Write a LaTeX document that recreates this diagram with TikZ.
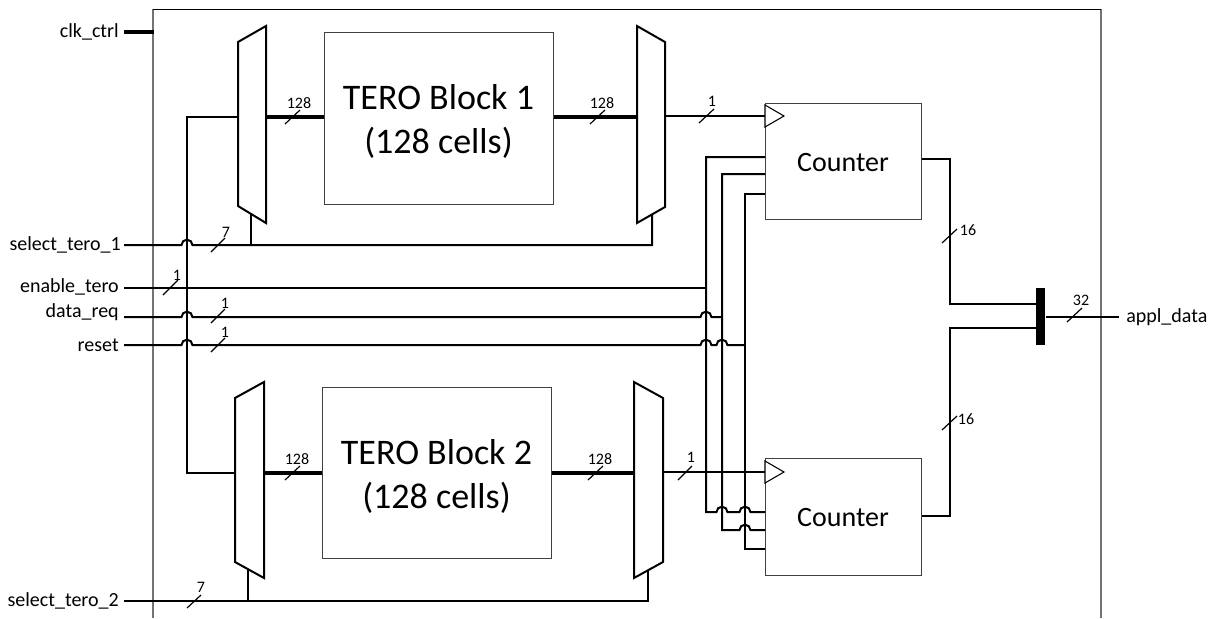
\documentclass[tikz,border=0pt]{standalone}
\usepackage{fontspec}
\setmainfont{Carlito}
\usepackage{tikz}
\usetikzlibrary{calc}

\newcommand{\hop}[2]{-- ({#1-5.5},#2) arc[start angle=180,end angle=0,x radius=4.1pt,y radius=4pt]}

\begin{document}
\begin{tikzpicture}[x=.75pt,y=-.75pt]
    \tikzset{wire/.style={line width=1.5pt,black,line join=miter}}
    \tikzset{bus/.style={line width=2.4pt,black}}
    \tikzset{tick/.style={line width=.9pt,black}}
    \tikzset{bits/.style={font=\fontsize{12}{14}\selectfont,inner sep=0pt}}
    \tikzset{port/.style={font=\fontsize{15}{18}\selectfont,inner sep=0pt}}
    \tikzset{albox/.style={draw=black!75,line width=.8pt,fill=white,anchor=north west,inner sep=0pt}}
    \tikzset{blocktxt/.style={align=center,inner sep=0pt,font=\fontsize{27}{33}\selectfont}}
    \tikzset{counttxt/.style={inner sep=0pt,font=\fontsize{21}{25}\selectfont}}

    \useasboundingbox (0,0) rectangle (1214,618);

    % outer frame, open at the bottom
    \draw[black!55,line width=1pt] (153,618) -- (153,9);
    \draw[black!55,line width=1pt] (1101,9) -- (1101,618);
    \draw[black,line width=.6pt] (153,9) -- (1101,9);

    % ports
    \node[port,anchor=east] (clk) at (119,32) {clk\_ctrl};
    \node[port,anchor=east] (sel1) at (121,245) {select\_tero\_1};
    \node[port,anchor=east] (en) at (119,287) {enable\_tero};
    \node[port,anchor=east] (req) at (119,312) {data\_req};
    \node[port,anchor=east] (rst) at (119,345) {reset};
    \node[port,anchor=east] (sel2) at (119,601) {select\_tero\_2};
    \node[port,anchor=west] (out) at (1126,317) {appl\_data};

    \coordinate (clkw) at (124,32);
    \coordinate (sel1w) at (124,245);
    \coordinate (enw) at (124,288);
    \coordinate (reqw) at (124,317);
    \coordinate (rstw) at (124,345);
    \coordinate (sel2w) at (124,601);
    \coordinate (outw) at (1119,317);
    \coordinate (frameclk) at (154,32);

    % blocks and counters
    \node[albox,minimum width=229*.75pt,minimum height=172*.75pt] (b1) at (324,32) {};
    \node[albox,minimum width=229*.75pt,minimum height=171*.75pt] (b2) at (322,387) {};
    \node[albox,minimum width=156*.75pt,minimum height=116*.75pt] (c1) at (765,103) {};
    \node[albox,minimum width=156*.75pt,minimum height=117*.75pt] (c2) at (765,458) {};
    \node[blocktxt] (b1txt) at (438.5,121) {TERO Block 1\\(128 cells)};
    \node[blocktxt] (b2txt) at (436.5,476) {TERO Block 2\\(128 cells)};
    \node[counttxt] (c1txt) at (843,163) {Counter};
    \node[counttxt] (c2txt) at (843,518) {Counter};

    % muxes
    \draw[wire,fill=white] (238,42) -- (266,26) -- (266,223) -- (238,206) -- cycle;
    \draw[wire,fill=white] (637,26) -- (665,42) -- (665,207) -- (637,223) -- cycle;
    \draw[wire,fill=white] (235,398) -- (264,382) -- (264,578) -- (235,562) -- cycle;
    \draw[wire,fill=white] (634,382) -- (663,398) -- (663,562) -- (634,578) -- cycle;

    \coordinate (m1l) at (238,117);
    \coordinate (m1r) at (266,117);
    \coordinate (m2l) at (637,117);
    \coordinate (m2r) at (665,116);
    \coordinate (m3l) at (235,473);
    \coordinate (m3r) at (264,473);
    \coordinate (m4l) at (634,473);
    \coordinate (m4r) at (663,472);
    \coordinate (m1b) at (251,214);
    \coordinate (m2b) at (652,215);
    \coordinate (m3b) at (248,570);
    \coordinate (m4b) at (648,570);

    % clock triangles
    \draw[line width=.8pt,fill=white] (765,105) -- (784,116) -- (765,127) -- cycle;
    \draw[line width=.8pt,fill=white] (765,461) -- (784,472) -- (765,483) -- cycle;
    \coordinate (c1clk) at (765,116);
    \coordinate (c2clk) at (765,472);

    % bar
    \node[fill=black,minimum width=9*.75pt,minimum height=57*.75pt,inner sep=0pt,anchor=north west] (bar) at (1036,288) {};

    % busses
    \draw[bus] (clkw) -- (frameclk);
    \draw[bus] (m1r) -- (b1.west |- m1r);
    \draw[bus] (b1.east |- m2l) -- (m2l);
    \draw[bus] (m3r) -- (b2.west |- m3r);
    \draw[bus] (b2.east |- m4l) -- (m4l);

    % select lines
    \draw[wire] (m1l) -- (187,117) -- (187,473) -- (m3l);
    \draw[wire] (sel1w) \hop{187}{245} -- (652,245) -- (m2b);
    \draw[wire] (m1b) -- (251,245);
    \draw[wire] (sel2w) -- (648,601) -- (m4b);
    \draw[wire] (m3b) -- (248,601);

    % control lines
    \draw[wire] (enw) -- (706,288);
    \draw[wire] (reqw) \hop{187}{317} \hop{706}{317} -- (722,317);
    \draw[wire] (rstw) \hop{187}{345} \hop{706}{345} \hop{722}{345} -- (745,345);
    \draw[wire] (c1.west |- 0,157) -- (706,157) -- (706,512) \hop{722}{512} \hop{745}{512} -- (c2.west |- 0,512);
    \draw[wire] (c1.west |- 0,174) -- (722,174) -- (722,530) \hop{745}{530} -- (c2.west |- 0,530);
    \draw[wire] (c1.west |- 0,194) -- (745,194) -- (745,549) -- (c2.west |- 0,549);

    \draw[wire] (m2r) -- (c1clk);
    \draw[wire] (m4r) -- (c2clk);

    % outputs
    \draw[wire] (c1.east |- 0,159) -- (950,159) -- (950,304) -- (bar.west |- 0,304);
    \draw[wire] (c2.east |- 0,516) -- (950,516) -- (950,328) -- (bar.west |- 0,328);
    \draw[wire] (bar.east |- outw) -- (outw);

    % widths
    \draw[tick] (285,124) -- (300,110);
    \node[bits] (n1) at (299,103) {128};
    \draw[tick] (590,124) -- (605,110);
    \node[bits] (n2) at (602,103) {128};
    \draw[tick] (699,123) -- (714,109);
    \node[bits] (n3) at (712,101) {1};
    \draw[tick] (285,480) -- (300,466);
    \node[bits] (n4) at (297,459) {128};
    \draw[tick] (588,480) -- (603,466);
    \node[bits] (n5) at (600,459) {128};
    \draw[tick] (678,480) -- (692,466);
    \node[bits] (n6) at (691,457) {1};
    \draw[tick] (211,252) -- (225,238);
    \node[bits] (n7) at (226,232) {7};
    \draw[tick] (163,295) -- (178,280);
    \node[bits] (n8) at (177,275) {1};
    \draw[tick] (211,323) -- (225,309);
    \node[bits] (n9) at (225,303) {1};
    \draw[tick] (211,352) -- (225,338);
    \node[bits] (n10) at (225,332) {1};
    \draw[tick] (187,608) -- (201,595);
    \node[bits] (n11) at (201,587) {7};
    \draw[tick] (942,243) -- (957,229);
    \node[bits] (n12) at (968,230) {16};
    \draw[tick] (942,430) -- (957,416);
    \node[bits] (n13) at (966,419) {16};
    \draw[tick] (1067,322) -- (1082,308);
    \node[bits] (n14) at (1081,300) {32};
\end{tikzpicture}
\end{document}
